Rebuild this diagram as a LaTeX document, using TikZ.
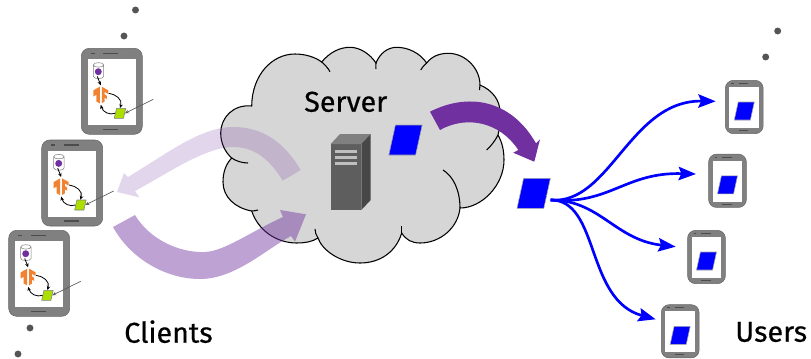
\documentclass[tikz,border=0pt]{standalone}
\usepackage{fontspec}
\newfontfamily\labelfont[FakeBold=0.5]{Fira Sans}
\usepackage{tikz}
\usetikzlibrary{arrows.meta,shapes.geometric}

\definecolor{phonegrey}{RGB}{128,128,128}
\definecolor{cloudgrey}{RGB}{214,214,214}
\definecolor{dotgrey}{RGB}{85,85,85}
\definecolor{darkpurple}{RGB}{112,48,160}
\definecolor{flowcolor}{RGB}{240,130,50}
\definecolor{leafgreen}{RGB}{172,222,0}

\tikzset{
  phonebody/.style={draw=phonegrey!80!black,fill=phonegrey,rounded corners=6pt,inner sep=0pt,line width=0.4pt},
  phonescreen/.style={fill=white,draw=none,inner sep=0pt},
  packet/.style={trapezium,trapezium left angle=72,trapezium right angle=108,trapezium stretches=true,fill=blue,draw=phonegrey!70,line width=0.4pt,inner sep=0.5pt},
  packetbig/.style={packet,minimum width=25pt,minimum height=22.5pt},
  packetsmall/.style={packet,minimum width=15pt,minimum height=13.5pt},
  leaf/.style={packet,fill=leafgreen,draw=phonegrey,minimum width=8.6pt,minimum height=7.5pt},
  stray/.style={circle,fill=dotgrey,inner sep=0pt,minimum size=5.2pt},
  datadot/.style={circle,fill=darkpurple,inner sep=0pt,minimum size=5.2pt},
  caption/.style={inner sep=0pt,font=\labelfont\fontsize{21.5}{24}\selectfont,anchor=base west},
  loopline/.style={-{Stealth[length=3pt,width=2.6pt]},line width=0.6pt,black},
  feedline/.style={-{Stealth[length=3pt,width=2.6pt]},line width=0.5pt,black!65},
  fanline/.style={-{Stealth[length=13pt,width=10pt,inset=2pt]},line width=2pt,blue},
  pics/phone/.style={code={
    \begin{scope}[yscale=-1,scale=#1]
      \node[phonebody,minimum width=45.75pt*#1,minimum height=64.5pt*#1] (-body) at (0,0) {};
      \node[phonescreen,minimum width=36pt*#1,minimum height=49.5pt*#1] (-screen) at (0,0.7) {};
      \draw[line width=0.9pt*#1,black!70] (-20.8,-38) -- (-16.8,-38) (-8.5,-38) -- (6.5,-38) (-8.5,38) -- (6.5,38);
    \end{scope}
  }},
  pics/clientapp/.style={code={
    \begin{scope}[yscale=-1]
    % storage
    \draw[fill=white,draw=phonegrey,line width=0.4pt] (-18.5,-26.3) -- (-18.5,-15) .. controls (-18.5,-12) and (-8.1,-12) .. (-8.1,-15) -- (-8.1,-26.3) .. controls (-8.1,-29.4) and (-18.5,-29.4) .. (-18.5,-26.3) .. controls (-18.5,-23.5) and (-8.1,-23.5) .. (-8.1,-26.3);
    \node[datadot] (-data) at (-13.5,-19.6) {};
    % framework logo
    \coordinate (-logo) at (-11,3.7);
    \begin{scope}[shift={(-11,3.7)}]
      \fill[flowcolor] (-1,-8.3) -- (-7.5,-4.6) -- (-7.5,1.5) -- (-4.5,-0.2) -- (-4.5,6.6) -- (-1,8.3) -- cycle;
      \fill[flowcolor] (1,-8.3) -- (7.5,-4.6) -- (7.5,-1) -- (3.7,-3.2) -- (3.7,-0.6) -- (6,0.8) -- (6,4) -- (3.7,2.6) -- (3.7,6.6) -- (1,8.3) -- cycle;
    \end{scope}
    \node[leaf] (-leaf) at (8.2,22) {};
    \coordinate (-logoright) at (-3,2);
    \coordinate (-logoleft) at (-11,13.5);
    \coordinate (-logotop) at (-11,-6);
    \coordinate (-feed) at (41.5,8);
    \draw[loopline] (-data.south) ++(-1,1) -- (-logotop);
    \draw[loopline] (-logoright) .. controls (4,3) and (11,8) .. (-leaf.north);
    \draw[loopline] (-leaf.west) .. controls (-2,24) and (-9,21) .. (-logoleft);
    \draw[feedline] (-feed) -- (-leaf.east);
    \end{scope}
  }}
}

\begin{document}
\begin{tikzpicture}[x=0.75pt,y=0.75pt,yscale=-1,xscale=1]
    \useasboundingbox (0,0) rectangle (811,358);

    % stray dots
    \node[stray] (dot1) at (135.5,10) {};
    \node[stray] (dot2) at (124,36) {};
    \node[stray] (dot3) at (30,328) {};
    \node[stray] (dot4) at (18,354) {};
    \node[stray] (dot5) at (777.7,31) {};
    \node[stray] (dot6) at (765.7,57) {};

    % cloud
    \draw[fill=cloudgrey,line width=0.8pt] (251.7,106) .. controls (252,75) and (272,54) .. (295,54) .. controls (305,54) and (315,57) .. (321.7,62) .. controls (330,52) and (340,47.3) .. (350,47.3) .. controls (360,47.3) and (370,54) .. (376,63) .. controls (380,53) and (388,47.3) .. (396.7,47.3) .. controls (408,47.3) and (420,53) .. (426.7,63) .. controls (432,56) and (440,53.3) .. (448.3,53.3) .. controls (465,53.3) and (480,68) .. (480,85) .. controls (492,90) and (500,100) .. (500,112) .. controls (500,120) and (500,128) .. (498,135) .. controls (502,142) and (504,150) .. (504,160) .. controls (504,185) and (482,208) .. (460,208) .. controls (458,228) and (440,243) .. (420,243) .. controls (412,243) and (406,240) .. (401.7,233) .. controls (396,252) and (380,263) .. (360,263) .. controls (340,263) and (322,250) .. (318,238) .. controls (312,242) and (304,243) .. (296.7,243) .. controls (276,243) and (258,230) .. (251.7,211) .. controls (235,208) and (223,197) .. (223,182) .. controls (223,172) and (226,164) .. (231.7,158) .. controls (225,152) and (220.7,143) .. (220.7,133) .. controls (220.7,118) and (233,104) .. (251.7,106) -- cycle;
    \draw[line width=0.8pt] (321.7,62) .. controls (325,65) and (328,68) .. (330,71.7);
    \draw[line width=0.8pt] (376,63) .. controls (375.5,66) and (376,68) .. (376,69);
    \draw[line width=0.8pt] (426.7,63) .. controls (424,65) and (422,68) .. (420.7,70);
    \draw[line width=0.8pt] (480,85) -- (479.5,90);
    \draw[line width=0.8pt] (498,135) .. controls (495,141) and (491,146) .. (486.7,150);
    \draw[line width=0.8pt] (443,170) .. controls (453,176) and (460,190) .. (460,208);
    \draw[line width=0.8pt] (401.7,233) -- (401.7,225.7);
    \draw[line width=0.8pt] (318,238) .. controls (316,235) and (315,232) .. (315,229);
    \draw[line width=0.8pt] (251.7,211) .. controls (254,211) and (256,210.5) .. (258,210);
    \draw[line width=0.8pt] (231.7,158) .. controls (236,161) and (242,163) .. (248,163);

    % server
    \fill[black!63] (330.7,144) rectangle (361.3,210);
    \fill[black!50] (330.7,144) -- (340,134) -- (370.7,134) -- (361.3,144) -- cycle;
    \fill[black!72] (361.3,144) -- (370.7,134) -- (370.7,200) -- (361.3,210) -- cycle;
    \foreach \barY in {150,156,161.5}
      \fill[black!25] (335,\barY) rectangle (356.7,\barY+3);

    \node[caption] (servername) at (304,111.7) {Server};
    \node[packetbig] (update) at (405.5,140) {};

    % rounds between clients and server
    \fill[darkpurple,opacity=0.2] (300.7,170) .. controls (280,135) and (255,127) .. (233,127) .. controls (200,127) and (165,155) .. (128,177) -- (124,173) -- (117,192) -- (139.3,197.3) -- (135,191) .. controls (165,175) and (205,147) .. (233,147) .. controls (255,147) and (270,160) .. (282.7,180.7) -- cycle;
    \fill[darkpurple,opacity=0.45] (135,215) .. controls (150,240) and (180,253) .. (205,252) .. controls (225,251) and (250,232) .. (283,217) -- (280,210) -- (306,214.3) -- (295,241.7) -- (291,236) .. controls (265,250) and (235,279) .. (200,279) .. controls (165,279) and (130,258) .. (113,227) -- cycle;
    \fill[darkpurple] (430,111.7) .. controls (466.7,93) and (510,98) .. (536,143.3) -- (540,139.3) -- (534.3,161.7) -- (513.3,152.7) -- (518.3,150) .. controls (500,122) and (466.7,115) .. (440,130) -- cycle;

    % clients
    \foreach \name/\px/\py in {client1/111.8/91.3,client2/72.2/183,client3/39.2/273.3}{
      \pic (\name) at (\px,\py) {phone=1};
      \pic (\name) at (\px,\py) {clientapp};
    }
    \node[caption] (clientsname) at (124,342.7) {Clients};

    % users
    \node[packetbig] (model) at (533.7,193.3) {};
    \foreach \name/\px/\py in {user1/744.3/107,user2/727.5/180.8,user3/706.5/257,user4/680.2/331.3}{
      \pic (\name) at (\px,\py) {phone=0.62};
      \node[packetsmall] (\name-model) at (\px,\py+4) {};
    }
    \node[caption] (usersname) at (735,341.7) {Users};

    \coordinate (model-out) at (550.7,200);
    \coordinate (tip1) at (715.7,101.3);
    \coordinate (tip2) at (696,174);
    \coordinate (tip3) at (675.7,246.7);
    \coordinate (tip4) at (655.7,319.3);
    \draw[fanline] (model-out) .. controls (610,205) and (630,100) .. (tip1);
    \draw[fanline] (model-out) .. controls (610,205) and (625,172) .. (tip2);
    \draw[fanline] (model-out) .. controls (600,200) and (615,240) .. (tip3);
    \draw[fanline] (model-out) .. controls (600,200) and (585,300) .. (tip4);
\end{tikzpicture}
\end{document}
